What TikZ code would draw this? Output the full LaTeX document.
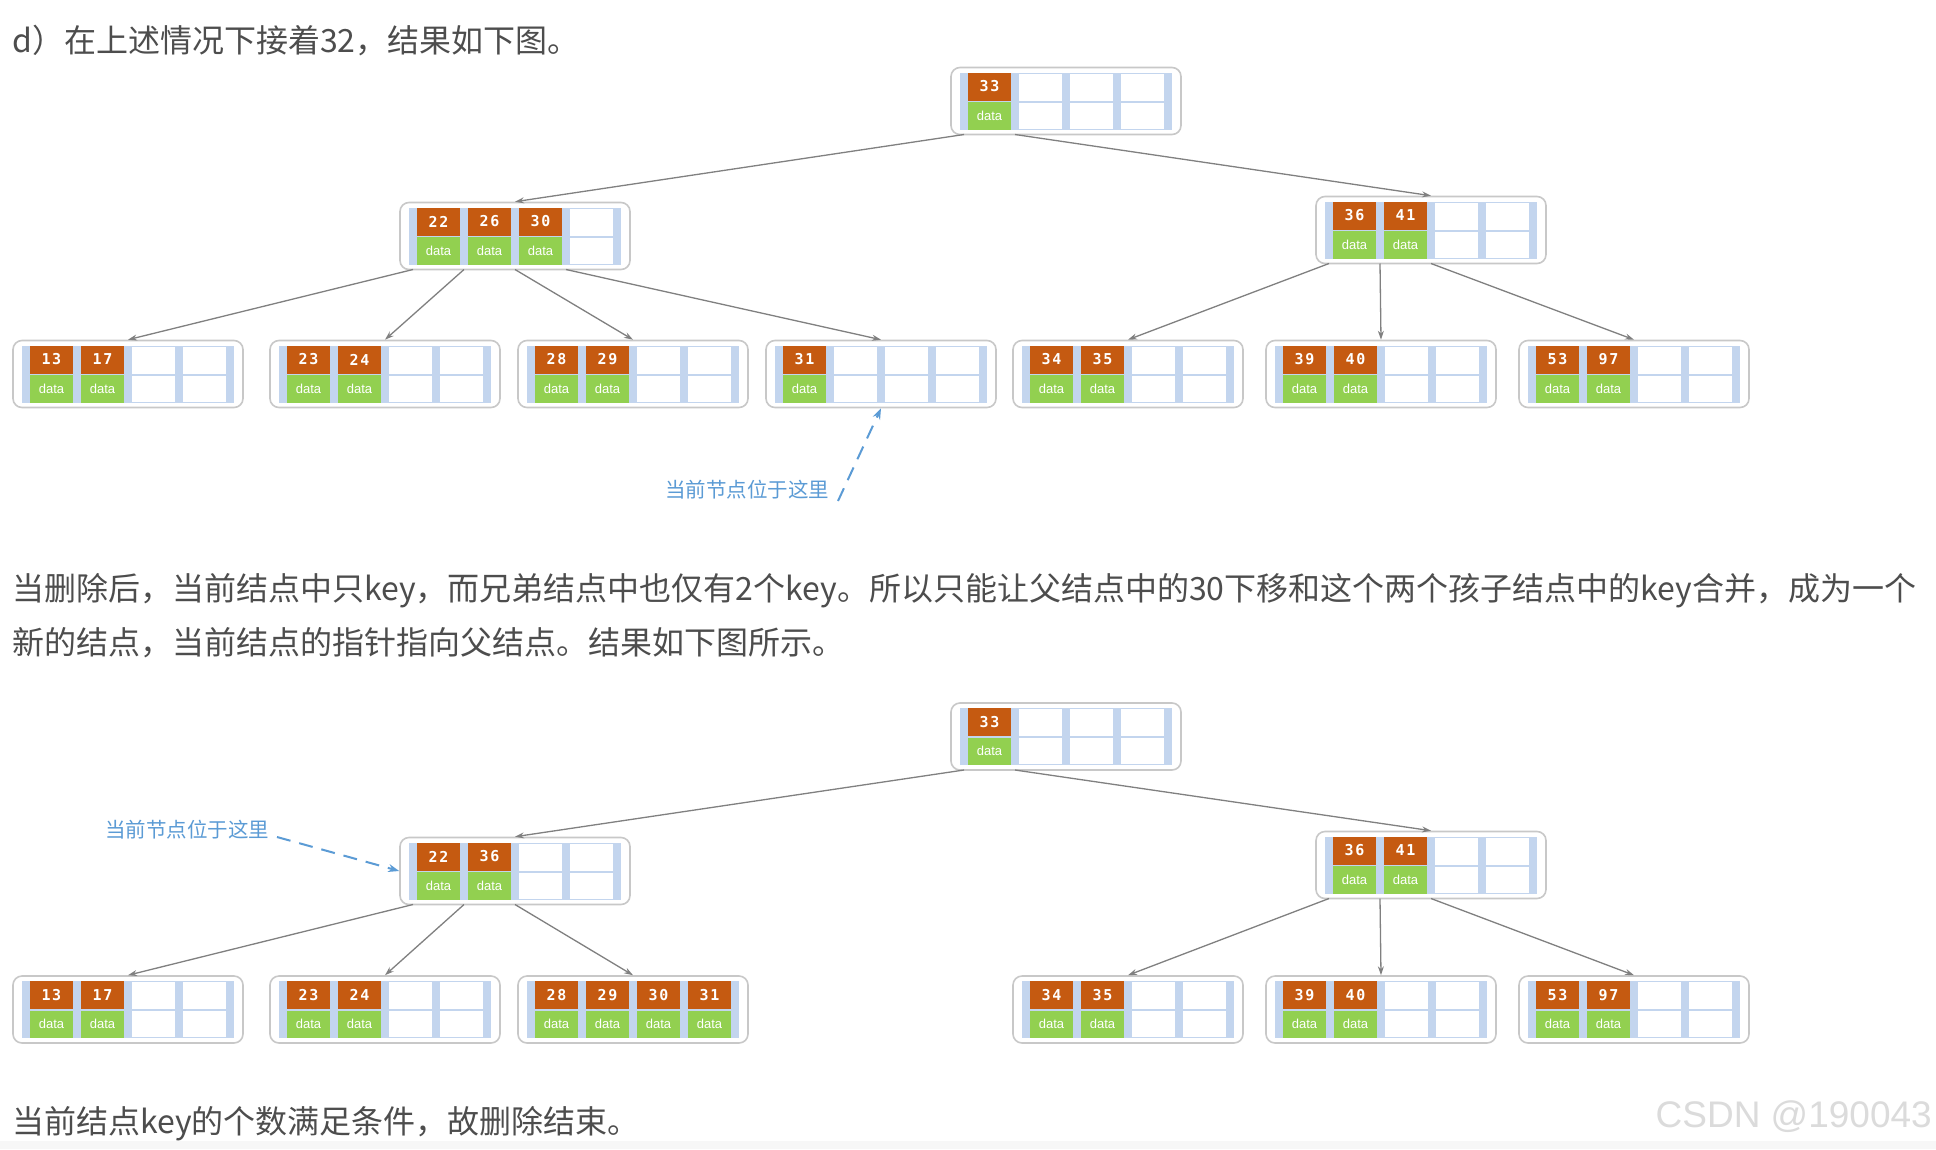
\documentclass[tikz,border=0pt]{standalone}
\usepackage{fontspec}
\setmainfont{Noto Sans CJK SC}
\newfontfamily\keyfont[LetterSpace=10]{DejaVu Sans Mono Bold}
\newfontfamily\datafont{Liberation Sans}
\newfontfamily\markfont{Liberation Sans}
\usetikzlibrary{arrows.meta,calc}
\definecolor{keyorange}{HTML}{C55A11}
\definecolor{datagreen}{HTML}{92D050}
\definecolor{stripblue}{HTML}{C3D5EE}
\definecolor{boxgray}{HTML}{C8C8C8}
\definecolor{linkgray}{HTML}{808080}
\definecolor{noteblue}{HTML}{5B9BD5}
\definecolor{textgray}{HTML}{4D4D4D}
\tikzset{
    btbox/.style={draw=boxgray, line width=1.6pt, rounded corners=9pt, fill=white,
        minimum width=230pt, minimum height=67pt, inner sep=0pt},
    treearrow/.style={draw=linkgray, line width=1.3pt, -{Stealth[length=9pt,width=6pt]}},
    noteline/.style={draw=noteblue, line width=2pt, dash pattern=on 14pt off 9pt,
        -{Stealth[length=11pt,width=8pt]}},
    para/.style={anchor=west, inner sep=0pt, text=textgray, font=\fontsize{32pt}{38pt}\selectfont}
}
\newcommand{\btnode}[3]{%
    \node[btbox] (#1) at (#2) {};
    \begin{scope}[shift={(#1.center)}]
        \fill[stripblue] (-106,-28.5) rectangle (106,28.5);
        \foreach \c in {0,...,3} {
            \fill[white] (-98+51*\c,-27.5) rectangle (-55+51*\c,-0.5);
            \fill[white] (-98+51*\c,1.5) rectangle (-55+51*\c,27.5);
        }
        \foreach \k [count=\c from 0] in {#3} {
            \fill[keyorange] (-98+51*\c,-28.5) rectangle (-55+51*\c,-0.5);
            \fill[datagreen] (-98+51*\c,1) rectangle (-55+51*\c,28.5);
            \node[keytext] at (-76.5+51*\c,-14.5) {\k};
            \node[datatext] at (-76.5+51*\c,14.5) {data};
        }
        \foreach \p in {0,...,4}
            \coordinate (#1-p\p) at (-102+51*\p,33.5);
    \end{scope}
}

\begin{document}
\begin{tikzpicture}[
    x=1pt, y=-1pt,
    keytext/.style={text=white, inner sep=0pt, font=\keyfont\fontsize{15pt}{15pt}\selectfont},
    datatext/.style={text=white, inner sep=0pt, font=\datafont\fontsize{13pt}{13pt}\selectfont},
    note/.style={text=noteblue, inner sep=0pt, font=\fontsize{20.5pt}{20.5pt}\selectfont}
]
\useasboundingbox[fill=white] (0,0) rectangle (1936,1149);
\fill[gray!6] (0,1141) rectangle (1936,1149);

\node[para] (intro) at (12,41) {d）在上述情况下接着32，结果如下图。};
\node[para] (explainA) at (12,591) {当删除后，当前结点中只key，而兄弟结点中也仅有2个key。所以只能让父结点中的30下移和这个两个孩子结点中的key合并，成为一个};
\node[para] (explainB) at (12,643) {新的结点，当前结点的指针指向父结点。结果如下图所示。};
\node[para] (closing) at (12,1124) {当前结点key的个数满足条件，故删除结束。};
\node[anchor=east, inner sep=0pt, text=gray!28, font=\markfont\fontsize{37pt}{37pt}\selectfont] (mark) at (1932,1117) {CSDN @190043};

\btnode{rootA}{1066,101}{33}
\btnode{lA}{515,236}{22,26,30}
\btnode{rA}{1431,230}{36,41}
\btnode{a1}{128,374}{13,17}
\btnode{a2}{385,374}{23,24}
\btnode{a3}{633,374}{28,29}
\btnode{a4}{881,374}{31}
\btnode{a5}{1128,374}{34,35}
\btnode{a6}{1381,374}{39,40}
\btnode{a7}{1634,374}{53,97}
\draw[treearrow] (rootA-p0) -- (lA.north);
\draw[treearrow] (rootA-p1) -- (rA.north);
\draw[treearrow] (lA-p0) -- (a1.north);
\draw[treearrow] (lA-p1) -- (a2.north);
\draw[treearrow] (lA-p2) -- (a3.north);
\draw[treearrow] (lA-p3) -- (a4.north);
\draw[treearrow] (rA-p0) -- (a5.north);
\draw[treearrow] (rA-p1) -- (a6.north);
\draw[treearrow] (rA-p2) -- (a7.north);
\node[note] (hereA) at (747,490) {当前节点位于这里};
\coordinate (hereAtail) at (838,501);
\draw[noteline] (hereAtail) -- (a4.south);

\btnode{rootB}{1066,736.5}{33}
\btnode{lB}{515,871}{22,36}
\btnode{rB}{1431,865}{36,41}
\btnode{b1}{128,1009.5}{13,17}
\btnode{b2}{385,1009.5}{23,24}
\btnode{b3}{633,1009.5}{28,29,30,31}
\btnode{b4}{1128,1009.5}{34,35}
\btnode{b5}{1381,1009.5}{39,40}
\btnode{b6}{1634,1009.5}{53,97}
\draw[treearrow] (rootB-p0) -- (lB.north);
\draw[treearrow] (rootB-p1) -- (rB.north);
\draw[treearrow] (lB-p0) -- (b1.north);
\draw[treearrow] (lB-p1) -- (b2.north);
\draw[treearrow] (lB-p2) -- (b3.north);
\draw[treearrow] (rB-p0) -- (b4.north);
\draw[treearrow] (rB-p1) -- (b5.north);
\draw[treearrow] (rB-p2) -- (b6.north);
\node[note] (hereB) at (187,830) {当前节点位于这里};
\coordinate (hereBtail) at (277,837);
\draw[noteline] (hereBtail) -- (lB.west);
\end{tikzpicture}
\end{document}
